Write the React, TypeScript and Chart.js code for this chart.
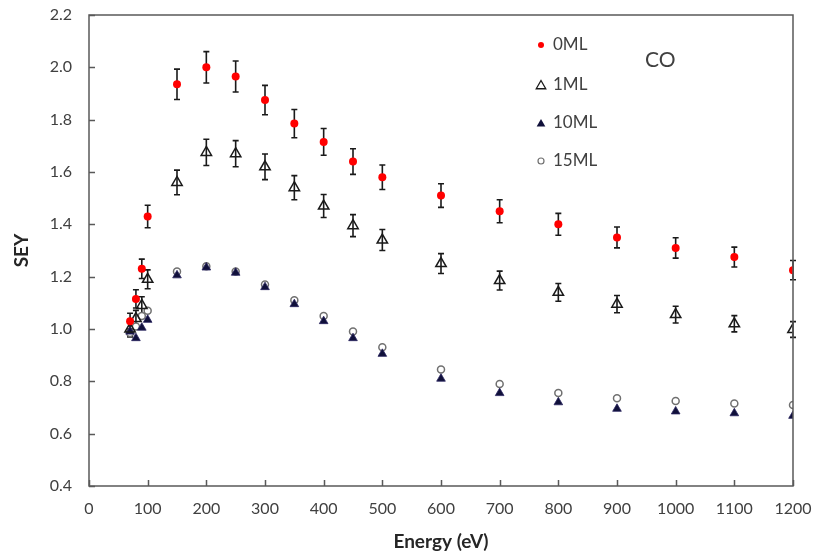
import React, { useEffect, useRef } from 'react';
import { Chart, registerables } from 'chart.js';

Chart.register(...registerables);

// ---- data ----
const energies = [70, 80, 90, 100, 150, 200, 250, 300, 350, 400, 450, 500, 600, 700, 800, 900, 1000, 1100, 1200];
const sey0ML = [1.03, 1.115, 1.23, 1.43, 1.935, 2.0, 1.965, 1.875, 1.785, 1.715, 1.64, 1.58, 1.51, 1.45, 1.4, 1.35, 1.31, 1.275, 1.225];
const err0ML = [0.03, 0.035, 0.037, 0.043, 0.058, 0.06, 0.059, 0.056, 0.054, 0.051, 0.049, 0.047, 0.045, 0.044, 0.042, 0.04, 0.039, 0.038, 0.037];
const sey1ML = [1.0, 1.04, 1.09, 1.19, 1.56, 1.675, 1.67, 1.62, 1.54, 1.47, 1.395, 1.34, 1.25, 1.185, 1.14, 1.095, 1.055, 1.02, 0.998];
const err1ML = [0.03, 0.031, 0.033, 0.036, 0.047, 0.05, 0.05, 0.049, 0.046, 0.044, 0.042, 0.04, 0.038, 0.036, 0.034, 0.033, 0.032, 0.031, 0.03];
const sey10ML = [0.99, 0.965, 1.005, 1.035, 1.205, 1.235, 1.215, 1.16, 1.095, 1.03, 0.965, 0.905, 0.81, 0.755, 0.72, 0.695, 0.685, 0.678, 0.668];
const sey15ML = [0.985, 1.01, 1.05, 1.07, 1.22, 1.24, 1.22, 1.17, 1.11, 1.05, 0.99, 0.93, 0.845, 0.79, 0.755, 0.735, 0.725, 0.715, 0.71];

const seriesLabels = ['0ML', '1ML', '10ML', '15ML'];
const annotationText = 'CO';
const xTitle = 'Energy (eV)';
const yTitle = 'SEY';
const xMin = 0, xMax = 1200, xStep = 100;
const yMin = 0.4, yMax = 2.2, yStep = 0.2;

const FONT = 'Lato, "Open Sans", sans-serif';
const TEXT = '#404040';
const FRAME = '#595959';

const toPts = (ys: number[]) => energies.map((e, i) => ({ x: e, y: ys[i] }));

const errorBarPlugin = {
  id: 'errorBars',
  beforeDatasetsDraw(chart: any) {
    const { ctx, scales } = chart;
    const xs = scales.x, ys = scales.y;
    ctx.save();
    ctx.strokeStyle = '#1a1a1a';
    ctx.lineWidth = 1.6;
    chart.data.datasets.forEach((ds: any) => {
      const errs: number[] | undefined = ds.errors;
      if (!errs) return;
      ds.data.forEach((p: any, j: number) => {
        const e = errs[j];
        const px = xs.getPixelForValue(p.x);
        const t = ys.getPixelForValue(p.y + e);
        const b = ys.getPixelForValue(p.y - e);
        ctx.beginPath();
        ctx.moveTo(px, t); ctx.lineTo(px, b);
        ctx.moveTo(px - 3, t); ctx.lineTo(px + 3, t);
        ctx.moveTo(px - 3, b); ctx.lineTo(px + 3, b);
        ctx.stroke();
      });
    });
    ctx.restore();
  },
};

const framePlugin = {
  id: 'frame',
  afterDraw(chart: any) {
    const { ctx, chartArea: a, scales } = chart;
    ctx.save();
    ctx.strokeStyle = FRAME;
    ctx.lineWidth = 1.5;
    ctx.strokeRect(a.left, a.top, a.right - a.left, a.bottom - a.top);
    ctx.beginPath();
    scales.y.ticks.forEach((t: any) => {
      const py = Math.round(scales.y.getPixelForValue(t.value)) + 0.5;
      ctx.moveTo(a.left, py); ctx.lineTo(a.left + 6, py);
    });
    scales.x.ticks.forEach((t: any) => {
      const px = Math.round(scales.x.getPixelForValue(t.value)) + 0.5;
      ctx.moveTo(px, a.bottom); ctx.lineTo(px, a.bottom - 6);
    });
    ctx.stroke();
    ctx.restore();
  },
};

function drawTri(ctx: CanvasRenderingContext2D, x: number, y: number, r: number) {
  ctx.beginPath();
  for (let k = 0; k < 3; k++) {
    const ang = (k * 2 * Math.PI) / 3;
    const px = x + Math.sin(ang) * r, py = y - Math.cos(ang) * r;
    if (k === 0) ctx.moveTo(px, py); else ctx.lineTo(px, py);
  }
  ctx.closePath();
}

const legendPlugin = {
  id: 'customLegend',
  afterDraw(chart: any) {
    const { ctx } = chart;
    const mx = 541, tx = 553;
    const rows = [45, 85, 123, 161];
    ctx.save();
    ctx.fillStyle = '#ff0000';
    ctx.beginPath(); ctx.arc(mx, rows[0], 3, 0, Math.PI * 2); ctx.fill();
    ctx.strokeStyle = '#1a1a1a'; ctx.lineWidth = 1.3;
    drawTri(ctx, mx, rows[1] + 1, 5.5); ctx.stroke();
    ctx.fillStyle = '#10103a';
    drawTri(ctx, mx, rows[2] + 1, 5); ctx.fill();
    ctx.strokeStyle = '#707070'; ctx.lineWidth = 1.2;
    ctx.beginPath(); ctx.arc(mx, rows[3], 3, 0, Math.PI * 2); ctx.stroke();

    ctx.fillStyle = TEXT;
    ctx.font = `17px ${FONT}`;
    ctx.textAlign = 'left';
    ctx.textBaseline = 'middle';
    chart.data.datasets.forEach((ds: any, i: number) => {
      ctx.fillText(ds.label, tx, rows[i]);
    });
    ctx.font = `21px ${FONT}`;
    ctx.fillText(annotationText, 645, 60);
    ctx.restore();
  },
};

export default function App() {
  const ref = useRef<HTMLCanvasElement | null>(null);
  useEffect(() => {
    if (!ref.current) return;
    const chart = new Chart(ref.current, {
      type: 'scatter',
      data: {
        datasets: [
          {
            label: seriesLabels[0], data: toPts(sey0ML), errors: err0ML,
            pointStyle: 'circle', pointRadius: 4, backgroundColor: '#ff0000', borderColor: '#ff0000', borderWidth: 0,
          } as any,
          {
            label: seriesLabels[1], data: toPts(sey1ML), errors: err1ML,
            pointStyle: 'triangle', pointRadius: 6, backgroundColor: 'rgba(0,0,0,0)', borderColor: '#1a1a1a', borderWidth: 1.5,
          } as any,
          {
            label: seriesLabels[2], data: toPts(sey10ML),
            pointStyle: 'triangle', pointRadius: 5, backgroundColor: '#10103a', borderColor: '#2a2460', borderWidth: 0.8,
          } as any,
          {
            label: seriesLabels[3], data: toPts(sey15ML),
            pointStyle: 'circle', pointRadius: 3.5, backgroundColor: '#ffffff', borderColor: '#707070', borderWidth: 1.5,
          } as any,
        ],
      },
      options: {
        responsive: false,
        animation: false,
        layout: { padding: { top: 15, right: 26, left: 0, bottom: 0 } },
        plugins: { legend: { display: false }, tooltip: { enabled: false } },
        scales: {
          x: {
            type: 'linear', min: xMin, max: xMax,
            grid: { display: false, drawTicks: false },
            border: { display: false },
            ticks: { stepSize: xStep, padding: 13, color: TEXT, font: { family: FONT, size: 16 }, maxRotation: 0, callback: (v: any) => String(v) },
            title: { display: true, text: xTitle, color: '#262626', font: { family: FONT, size: 19, weight: 'bold' }, padding: { top: 0, bottom: 4 } },
            afterFit: (s: any) => { s.height = 71; s.paddingLeft = 0; s.paddingRight = 0; },
          },
          y: {
            type: 'linear', min: yMin, max: yMax,
            grid: { display: false, drawTicks: false },
            border: { display: false },
            ticks: { stepSize: yStep, padding: 17, color: TEXT, font: { family: FONT, size: 16 }, callback: (v: any) => Number(v).toFixed(1) },
            title: { display: true, text: yTitle, color: '#262626', font: { family: FONT, size: 19, weight: 'bold' }, padding: { top: 10, bottom: 0 } },
            afterFit: (s: any) => { s.width = 89; s.paddingTop = 0; s.paddingBottom = 0; },
          },
        },
      } as any,
      plugins: [errorBarPlugin, framePlugin, legendPlugin],
    });
    return () => chart.destroy();
  }, []);
  return (
    <div style={{ position: 'absolute', left: 0, top: 0, width: 819, height: 557, background: '#fff' }}>
      <canvas ref={ref} width={819} height={557} />
    </div>
  );
}
